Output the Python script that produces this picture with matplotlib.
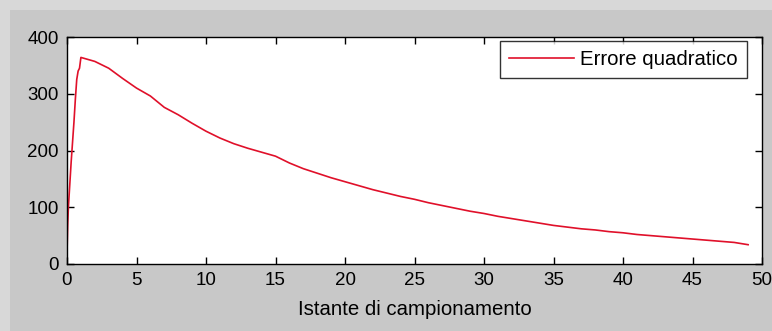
import matplotlib
matplotlib.use("Agg")
import matplotlib.pyplot as plt
from matplotlib.patches import Rectangle

# rising part (fine samples between 0 and 1)
x_rise = [0.0, 0.05, 0.1, 0.2, 0.3, 0.4, 0.5, 0.6, 0.7, 0.8, 0.9]
y_rise = [20, 68, 100, 140, 180, 215, 250, 290, 325, 340, 345]
# integer sampling instants 1..49
x_main = list(range(1, 50))
y_main = [364, 357, 345, 327, 310, 296, 276, 263, 248, 234,
          222, 212, 204, 197, 190, 178, 168, 160, 152, 145,
          138, 131, 125, 119, 114, 108, 103, 98, 93, 89,
          84, 80, 76, 72, 68, 65, 62, 60, 57, 55,
          52, 50, 48, 46, 44, 42, 40, 38, 34]

x_vals = x_rise + x_main
y_vals = y_rise + y_main

x_ticks = [0, 5, 10, 15, 20, 25, 30, 35, 40, 45, 50]
y_ticks = [0, 100, 200, 300, 400]

plt.rcParams['font.family'] = ['Liberation Sans', 'DejaVu Sans']

W, H = 772, 331
fig = plt.figure(figsize=(W / 100, H / 100), dpi=100)
fig.patch.set_facecolor('#c8c8c8')
# lighter frame strips at top and left
fig.patches.append(Rectangle((0, 1 - 10 / H), 1, 10 / H, transform=fig.transFigure,
                             facecolor='#d8d8d8', edgecolor='none', zorder=0))
fig.patches.append(Rectangle((0, 0), 10 / W, 1, transform=fig.transFigure,
                             facecolor='#d8d8d8', edgecolor='none', zorder=0))

ax = fig.add_axes([67 / W, (H - 264) / H, 695 / W, 227 / H])
ax.set_facecolor('white')

ax.plot(x_vals, y_vals, color='#e0102a', lw=1.2, label='Errore quadratico')

ax.set_xlim(0, 50)
ax.set_ylim(0, 400)
ax.set_xticks(x_ticks)
ax.set_yticks(y_ticks)
ax.tick_params(direction='in', length=5, width=1, top=True, right=True,
               labelsize=13.5, colors='black')
ax.tick_params(axis='x', pad=6)
ax.tick_params(axis='y', pad=6)
for s in ax.spines.values():
    s.set_linewidth(1.0)
    s.set_color('black')
ax.set_xlabel('Istante di campionamento', fontsize=14.7, labelpad=8)

leg = ax.legend(loc='upper right', fontsize=14.7, frameon=True, fancybox=False,
                edgecolor='black', borderpad=0.45, handlelength=3.2,
                handletextpad=0.3, borderaxespad=0,
                bbox_to_anchor=((747 - 67) / 695, 1 - 4 / 227))
leg.get_frame().set_linewidth(1.0)

fig.savefig('out.png', dpi=100, facecolor=fig.get_facecolor())
